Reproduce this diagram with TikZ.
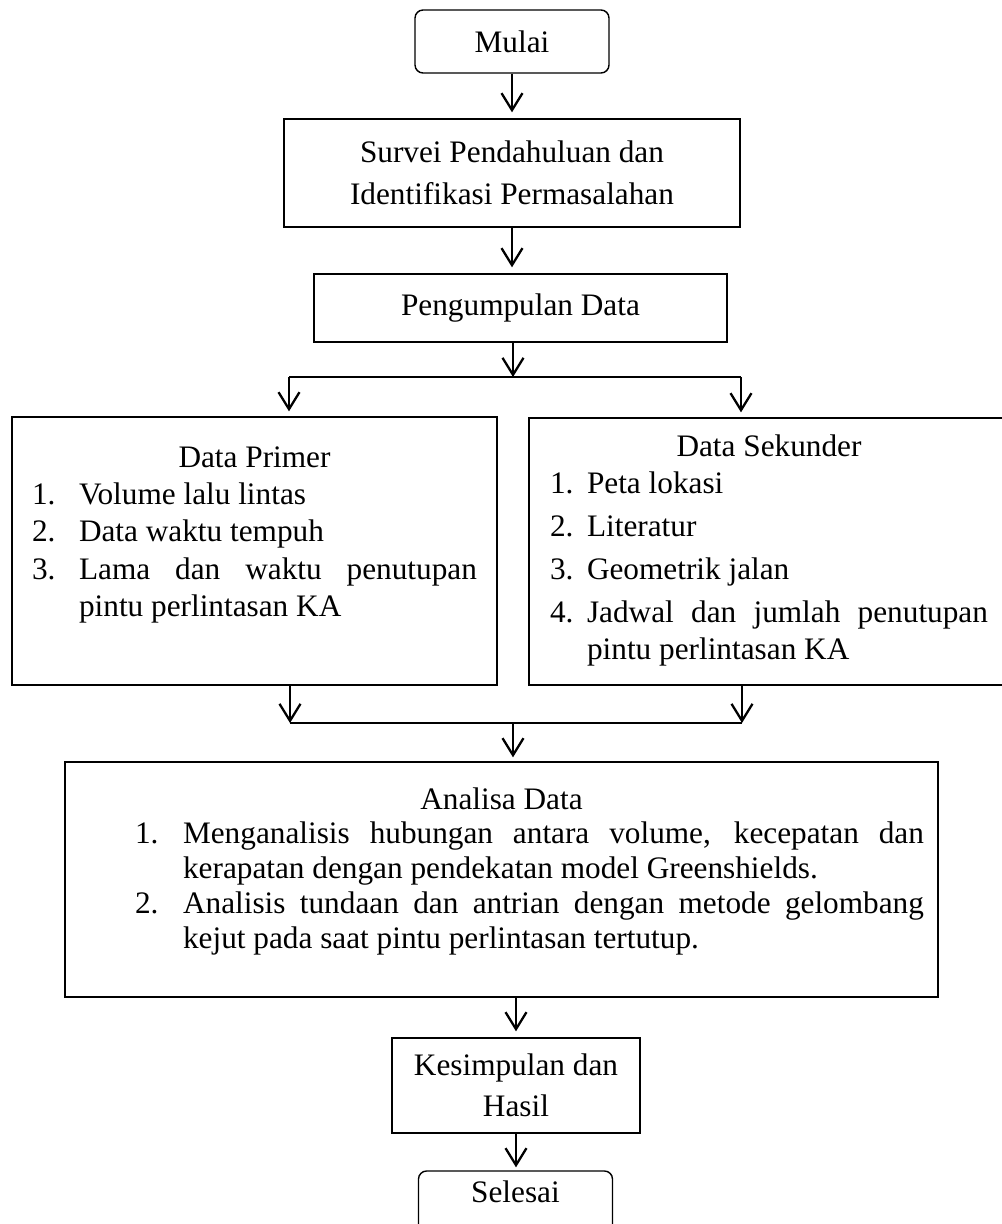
\documentclass[tikz,border=0pt]{standalone}
\usepackage{fontspec}
\setmainfont{Liberation Serif}
\usetikzlibrary{arrows.meta}

\hyphenpenalty=10000
\exhyphenpenalty=10000
\newlength\lstind
\newcommand{\itm}[2]{\par\noindent\hangindent=\lstind\hangafter=1\makebox[\lstind][l]{#1}#2\par}

\tikzset{
    proses/.style={draw=black, line width=0.8pt, inner sep=0pt, align=center, font=\fontsize{17.8}{23.6}\selectfont},
    terminal/.style={proses, rounded corners=0.16cm, minimum width=3.88cm, minimum height=1.26cm},
    daftar/.style={proses, align=justify, text height=0.42cm},
    panah/.style={-{Straight Barb[length=0.34cm,width=0.42cm]}, line width=1.3pt, shorten >=0.12cm},
    garis/.style={line width=1pt}
}

\begin{document}
\begin{tikzpicture}[x=0.02cm, y=-0.02cm]
    \useasboundingbox (0,0) rectangle (1001,1224);
    \node[terminal] (mulai) at (512,41.5) {Mulai};
    \node[proses, minimum width=9.12cm, minimum height=2.16cm] (survei) at (512,173) {Survei Pendahuluan dan\\Identifikasi Permasalahan};
    \node[proses, minimum width=8.26cm, minimum height=1.36cm] (kumpul) at (520.5,308) {Pengumpulan Data};
    \node[daftar, text width=9.7cm, minimum height=5.36cm, text depth=3.78cm, font=\fontsize{17.8}{21.3}\selectfont] (primer) at (254.5,551) {%
        {\centering Data Primer\par}
        \leftskip=0.4cm \rightskip=0.4cm \lstind=0.94cm
        \itm{1.}{Volume lalu lintas}
        \itm{2.}{Data waktu tempuh}
        \itm{3.}{Lama dan waktu penutupan pintu perlintasan KA}};
    \node[daftar, text width=9.6cm, minimum height=5.34cm, text depth=4.24cm, font=\fontsize{17.8}{21.3}\selectfont] (sekunder) at (769,551.5) {%
        {\centering Data Sekunder\par}
        \leftskip=0.42cm \rightskip=0.42cm \lstind=0.74cm
        \itm{1.}{Peta lokasi}
        \parskip=3.1pt
        \itm{2.}{Literatur}
        \itm{3.}{Geometrik jalan}
        \itm{4.}{Jadwal dan jumlah penutupan pintu perlintasan KA}};
    \node[daftar, text width=17.46cm, minimum height=4.7cm, text depth=3.24cm, font=\fontsize{17.8}{19.8}\selectfont] (analisa) at (501.5,879.5) {%
        {\centering Analisa Data\par}
        \leftskip=1.4cm \rightskip=0.28cm \lstind=0.96cm
        \itm{1.}{Menganalisis hubungan antara volume, kecepatan dan kerapatan dengan pendekatan model Greenshields.}
        \itm{2.}{Analisis tundaan dan antrian dengan metode gelombang kejut pada saat pintu perlintasan tertutup.}};
    \node[proses, minimum width=4.96cm, minimum height=1.9cm] (kesimpulan) at (516,1085.5) {Kesimpulan dan\\Hasil};
    \node[terminal, text height=0.42cm, text depth=0.42cm] (selesai) at (515.5,1202.5) {Selesai};

    \coordinate (pisah) at (513,377);
    \coordinate (pisahkiri) at (289,377);
    \coordinate (pisahkanan) at (741,377);
    \coordinate (gabung) at (513,723);
    \coordinate (gabungkiri) at (290,723);
    \coordinate (gabungkanan) at (742,723);

    \draw[panah] (mulai) -- (survei);
    \draw[panah] (survei) -- (survei.south |- kumpul.north);
    \draw[panah, shorten >=0pt] (pisah |- kumpul.south) -- (pisah);
    \draw[garis] (pisahkiri) -- (pisahkanan);
    \draw[panah, shorten >=0.1cm] (pisahkiri) -- (pisahkiri |- primer.north);
    \draw[panah, shorten >=0.1cm] (pisahkanan) -- (pisahkanan |- sekunder.north);
    \draw[panah, shorten >=0pt] (gabungkiri |- primer.south) -- (gabungkiri);
    \draw[panah, shorten >=0pt] (gabungkanan |- sekunder.south) -- (gabungkanan);
    \draw[garis] (gabungkiri) -- (gabungkanan);
    \draw[panah, shorten >=0.08cm] (gabung) -- (gabung |- analisa.north);
    \draw[panah] (kesimpulan |- analisa.south) -- (kesimpulan.north);
    \draw[panah, shorten >=0.06cm] (kesimpulan) -- (kesimpulan |- selesai.north);
\end{tikzpicture}
\end{document}
